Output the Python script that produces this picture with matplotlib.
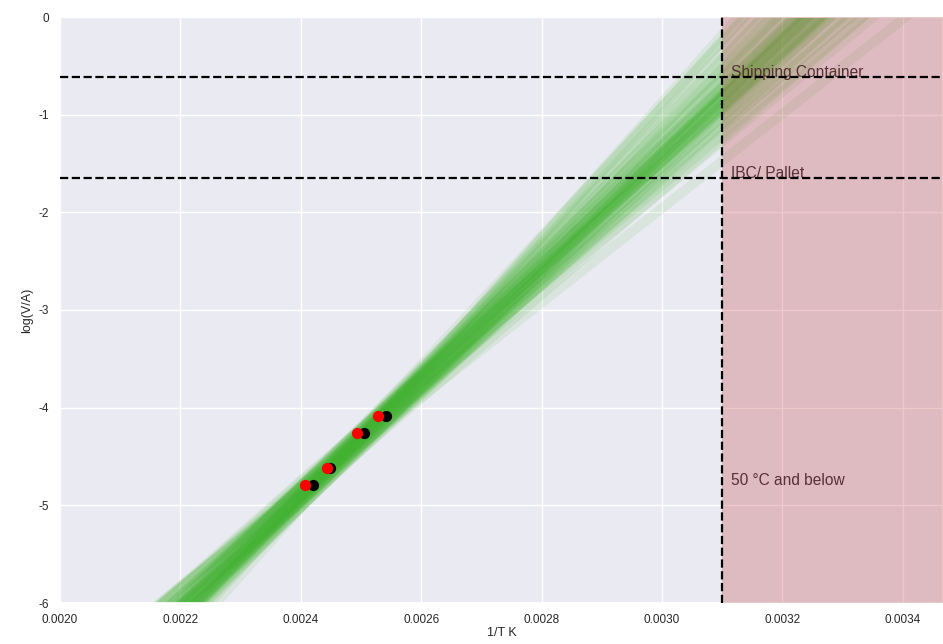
import numpy as np
import matplotlib.pyplot as plt
import seaborn as sns

# Datos medidos: 1/T (K^-1) y log(V/A)
inv_t_rojo = [0.002407, 0.002444, 0.002493, 0.002528]
inv_t_negro = [0.002420, 0.002449, 0.002505, 0.002542]
log_va = [-4.79, -4.62, -4.26, -4.09]

# Rectas del ajuste (muestras): pendiente y desplazamiento vertical en el centroide
pendientes = [5800, 5560, 6040, 5670, 5930, 6280, 5320, 5740, 5860, 6520,
              5480, 5960, 5080, 6150, 5770, 5620, 6760, 5830, 5400, 6100,
              5700, 5900, 4840, 6360, 5820, 5510, 6200, 5750, 5240, 5990,
              6600, 5660, 5880, 5450, 6250, 5780, 6060, 5580, 6920, 5160,
              5850, 5720, 6440, 5370, 5910, 5640, 6090, 5820]
desplazamientos = [0.00, 0.06, -0.04, 0.10, -0.08, 0.03, -0.11, 0.07, -0.01, 0.04,
                   -0.06, 0.11, 0.01, -0.10, 0.08, -0.03, 0.00, -0.07, 0.12, 0.04,
                   -0.12, 0.03, -0.04, 0.07, 0.10, -0.08, 0.01, -0.03, 0.06, -0.11,
                   0.08, 0.00, -0.06, 0.11, -0.01, 0.04, -0.10, 0.07, -0.04, 0.03,
                   0.10, -0.07, 0.01, -0.03, 0.06, -0.08, 0.12, -0.12]
centroide = (0.002479, -4.44)

# Umbrales
umbrales = [-0.61, -1.65]
etiquetas_umbral = ["Shipping Container", "IBC/ Pallet"]
inv_t_50c = 0.0031

sns.set_theme(style="darkgrid")
plt.rcParams["font.family"] = ["Liberation Sans", "DejaVu Sans"]

fig = plt.figure(figsize=(9.43, 6.44), dpi=100)
ax = fig.add_axes([60 / 943, 41 / 644, 883 / 943, 586 / 644])

x_min, x_max = 0.0020, 0.003467
xs = np.array([x_min, 0.0035])
for b, d in zip(pendientes, desplazamientos):
    a = centroide[1] + d - b * centroide[0]
    ax.plot(xs, a + b * xs, color="#3cb22a", alpha=0.1, lw=7, zorder=2,
            solid_capstyle="butt")

ax.scatter(inv_t_negro, log_va, color="black", s=50, zorder=2.6)
ax.scatter(inv_t_rojo, log_va, color="red", s=50, zorder=2.7)

for y, txt in zip(umbrales, etiquetas_umbral):
    ax.text(inv_t_50c + 0.000015, y, txt, fontsize=11.2, color="#262626",
            va="baseline", ha="left", zorder=3)
ax.text(inv_t_50c + 0.000015, -4.75, "50 °C and below", fontsize=11.2,
        color="#262626", va="center", ha="left", zorder=3)

# Zona de 50 °C o menos, encima de las rectas
ax.axvspan(inv_t_50c, x_max, color="#c44e52", alpha=0.3, lw=0, zorder=3.5)

for y in umbrales:
    ax.axhline(y, color="black", ls="--", lw=1.6, zorder=4)
ax.axvline(inv_t_50c, color="black", ls="--", lw=1.6, zorder=4)

ax.set_xlim(x_min, x_max)
ax.set_ylim(-6, 0)
ticks_x = np.arange(0.0020, 0.00345, 0.0002)
ax.set_xticks(ticks_x)
ax.set_xticklabels([f"{v:.4f}" for v in ticks_x])
ax.set_yticks(range(-6, 1))
ax.set_yticklabels([str(v) for v in range(-6, 1)])
ax.tick_params(labelsize=8.5, pad=2)
ax.set_xlabel("1/T K", fontsize=9, labelpad=1)
ax.set_ylabel("log(V/A)", fontsize=9, labelpad=4)

fig.savefig("out.png", dpi=100)
